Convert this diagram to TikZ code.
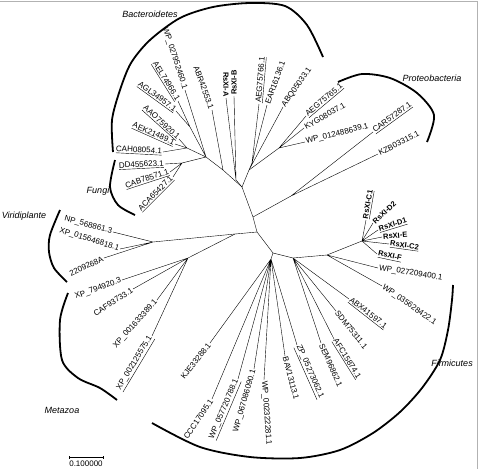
\documentclass[tikz,border=0pt]{standalone}
\usepackage{fontspec}
\setmainfont{Liberation Sans}
\begin{document}
\begin{tikzpicture}[x=1pt,y=-1pt,
    lfr/.style={anchor=west,inner sep=1pt,font=\fontsize{8}{9}\selectfont},
    lfl/.style={anchor=east,inner sep=1pt,font=\fontsize{8}{9}\selectfont},
    rsx/.style={lfr,font=\fontsize{7.5}{9}\selectfont\bfseries},
    grp/.style={font=\fontsize{9}{10}\selectfont\itshape},
    clade/.style={line width=1.8pt}]
    \useasboundingbox (0,0) rectangle (479,469);
    \draw[gray!60] (0,1.5) -- (477,1.5) -- (477,469);
    % inner nodes
    \coordinate (c1) at (242,187);
    \coordinate (c2) at (253,217);
    \coordinate (c3) at (257,232);
    \coordinate (c4) at (273,253);
    \coordinate (b1) at (206,157);
    \coordinate (b3) at (190,127);
    \coordinate (b4) at (187,148);
    \coordinate (fn) at (182,163);
    \coordinate (bA) at (223,170);
    \coordinate (rAB) at (236,180);
    \coordinate (p0) at (249,170);
    \coordinate (p1) at (252,163);
    \coordinate (p2) at (279,148);
    \coordinate (p3) at (291,196);
    \coordinate (vir) at (153,242);
    \coordinate (met) at (188,258);
    \coordinate (vm) at (235,234);
    \coordinate (f1) at (293,258);
    \coordinate (f2) at (327,255);
    \coordinate (rx) at (362,241);
    \coordinate (f3) at (271,259);
    % leaves, left side
    \node[lfl,rotate=-90,font=\fontsize{7.5}{9}\selectfont\bfseries] (rxa) at (226,98) {RsXI-A};
    \node[lfl,rotate=-70] (abr) at (212,110) {ABR42553.1};
    \node[lfl,rotate=-72] (wp0279) at (185,90) {WP\_027952460.1};
    \node[lfl,rotate=-58] (ael) at (178,101) {\underline{AEL74966.1}};
    \node[lfl,rotate=-36] (agl) at (176,111) {\underline{AGL34957.1}};
    \node[lfl,rotate=-42] (aao) at (179,139) {\underline{AAO75920.1}};
    \node[lfl,rotate=-24] (aek) at (175,144) {\underline{AEK21489.1}};
    \node[lfl,rotate=-3] (cah) at (163,152) {\underline{CAH08054.1}};
    \node[lfl,rotate=3] (dd) at (165,164) {\underline{DD455623.1}};
    \node[lfl,rotate=18] (cab) at (170,172) {\underline{CAB78571.1}};
    \node[lfl,rotate=45] (aca) at (173,177) {\underline{ACA65427.1}};
    \node[lfl,rotate=-15] (np) at (113,232) {NP\_568861.3};
    \node[lfl,rotate=-17] (xp015) at (120,249) {XP\_015646818.1};
    \node[lfl,rotate=25] (s2209) at (104,258) {2209268A};
    \node[lfl,rotate=20] (xp794) at (122,280) {XP\_794920.3};
    \node[lfl,rotate=33] (caf) at (133,289) {CAF93733.1};
    \node[lfl,rotate=48] (xp001) at (157,300) {XP\_001633389.1};
    \node[lfl,rotate=59] (xp002) at (152,336) {\underline{XP\_002125575.1}};
    \node[lfl,rotate=52] (kje) at (210,343) {KJE33288.1};
    \node[lfl,rotate=56] (ccc) at (212,399) {CCC17095.1};
    \node[lfl,rotate=67] (wp057) at (238,379) {\underline{WP\_057720788.1}};
    \node[lfl,rotate=74] (wp067) at (254,369) {WP\_067086090.1};
    % leaves, right side
    \node[rsx,rotate=90] (rxb) at (234,96) {RsXI-B};
    \node[lfr,rotate=85] (aeg66) at (259,104) {\underline{AEG75766.1}};
    \node[lfr,rotate=70] (ear) at (267,105) {EAR16136.1};
    \node[lfr,rotate=55] (abq) at (283,107) {ABQ05033.1};
    \node[lfr,rotate=40] (aeg65) at (306,116) {\underline{AEG75765.1}};
    \node[lfr,rotate=30] (kyg) at (304,128) {KYG08037.1};
    \node[lfr,rotate=14] (wp012) at (305,142) {WP\_012488639.1};
    \node[lfr,rotate=36] (car) at (373,132) {\underline{CAR57287.1}};
    \node[lfr,rotate=27] (kzb) at (378,154) {KZB03315.1};
    \node[rsx,rotate=80] (rxc1) at (366,220) {\underline{RsXI-C1}};
    \node[rsx,rotate=43] (rxd2) at (373,223) {RsXI-D2};
    \node[rsx,rotate=17] (rxd1) at (378,230) {\underline{RsXI-D1}};
    \node[rsx,rotate=5] (rxe) at (382,237) {RsXI-E};
    \node[rsx,rotate=-8] (rxc2) at (389,244) {\underline{RsXI-C2}};
    \node[rsx,rotate=-12] (rxf) at (377,254) {\underline{RsXI-F}};
    \node[lfr,rotate=-9] (wp027) at (378,268) {WP\_027209400.1};
    \node[lfr,rotate=-35] (wp035) at (382,286) {WP\_035628422.1};
    \node[lfr,rotate=-38] (abx) at (349,299) {\underline{ABX41597.1}};
    \node[lfr,rotate=-51] (sdm) at (336,311) {SDM75311.1};
    \node[lfr,rotate=-58] (afc) at (334,339) {\underline{AFC15874.1}};
    \node[lfr,rotate=-66] (sem) at (321,343) {SEM96862.1};
    \node[lfr,rotate=-66] (zp) at (297,345) {\underline{ZP\_05273062.1}};
    \node[lfr,rotate=-75] (bav) at (285,356) {BAV13113.1};
    \node[lfr,rotate=-86] (wp002) at (264,380) {WP\_002322281.1};
    % branches
    \draw (b1) -- (wp0279.east) (b3) -- (ael.east) (b3) -- (agl.east) (b1) -- (b3);
    \draw (b4) -- (aao.east) (b4) -- (aek.east) (b4) -- (cah.east) (b1) -- (b4);
    \draw (fn) -- (dd.east) (fn) -- (cab.east) (fn) -- (aca.east) (b1) -- (fn);
    \draw (b1) -- (bA) -- (c1) (bA) -- (abr.east);
    \draw (rAB) -- (rxa.east) (rAB) -- (rxb.west) (rAB) -- (c1);
    \draw (p1) -- (aeg66.west) (p1) -- (ear.west) (p0) -- (p1) (p0) -- (abq.west);
    \draw (p2) -- (aeg65.west) (p2) -- (kyg.west) (p2) -- (wp012.west) (p0) -- (p2) (p0) -- (c1);
    \draw (p3) -- (car.west) (p3) -- (kzb.west) (p3) -- (c2);
    \draw (c1) -- (c2) -- (c3) -- (c4);
    \draw (vir) -- (np.east) (vir) -- (xp015.east) (vir) -- (s2209.east) (vir) -- (vm);
    \draw (met) -- (xp794.east) (met) -- (caf.east) (met) -- (xp001.east) (met) -- (xp002.east) (met) -- (vm);
    \draw (vm) -- (c3);
    \draw (c4) -- (f1) -- (f2) -- (rx);
    \draw (rx) -- (rxc1.west) (rx) -- (rxd2.west) (rx) -- (rxd1.west) (rx) -- (rxe.west) (rx) -- (rxc2.west) (rx) -- (rxf.west);
    \draw (f2) -- (wp027.west) (f2) -- (wp035.west);
    \draw (f1) -- (abx.west) (f1) -- (sdm.west) (f1) -- (afc.west) (f1) -- (sem.west);
    \draw (c4) -- (f3);
    \draw (f3) -- (kje.east) (f3) -- (ccc.east) (f3) -- (wp057.east) (f3) -- (wp067.east) (f3) -- (wp002.west) (f3) -- (bav.west) (f3) -- (zp.west);
    % clade arcs
    \draw[clade] plot[smooth] coordinates {(113,152) (112,120) (120,90) (131,63) (150,40) (180,18) (213,7) (250,3) (285,6) (307,25) (323,57)};
    \draw[clade] plot[smooth] coordinates {(338,82) (362,74) (390,78) (417,93) (434,115) (427,142)};
    \draw[clade] plot[smooth] coordinates {(115,160) (110,187) (118,205) (135,215)};
    \draw[clade] plot[smooth] coordinates {(60,210) (50,235) (49,252) (54,268) (67,282)};
    \draw[clade] plot[smooth] coordinates {(68,293) (60,320) (62,360) (78,378) (100,388) (117,400)};
    \draw[clade] plot[smooth] coordinates {(152,423) (200,447) (250,457) (300,458) (340,450) (373,433) (400,412) (422,388) (440,360) (448,330) (452,300) (453,285)};
    % clade names
    \node[grp] (nbac) at (150,14) {Bacteroidetes};
    \node[grp] (npro) at (432,78) {Proteobacteria};
    \node[grp] (nfun) at (98,191) {Fungi};
    \node[grp] (nvir) at (24,216) {Viridiplante};
    \node[grp] (nmet) at (62,410) {Metazoa};
    \node[grp] (nfir) at (452,363) {Firmicutes};
    % scale bar
    \coordinate (sb1) at (69,457);
    \coordinate (sb2) at (103,457);
    \draw (sb1) -- (sb2);
    \draw ([yshift=-1.5pt]sb1) -- ([yshift=1.5pt]sb1) ([yshift=-1.5pt]sb2) -- ([yshift=1.5pt]sb2);
    \node[font=\fontsize{8}{9}\selectfont] (sbl) at (86,464) {0.100000};
\end{tikzpicture}
\end{document}
